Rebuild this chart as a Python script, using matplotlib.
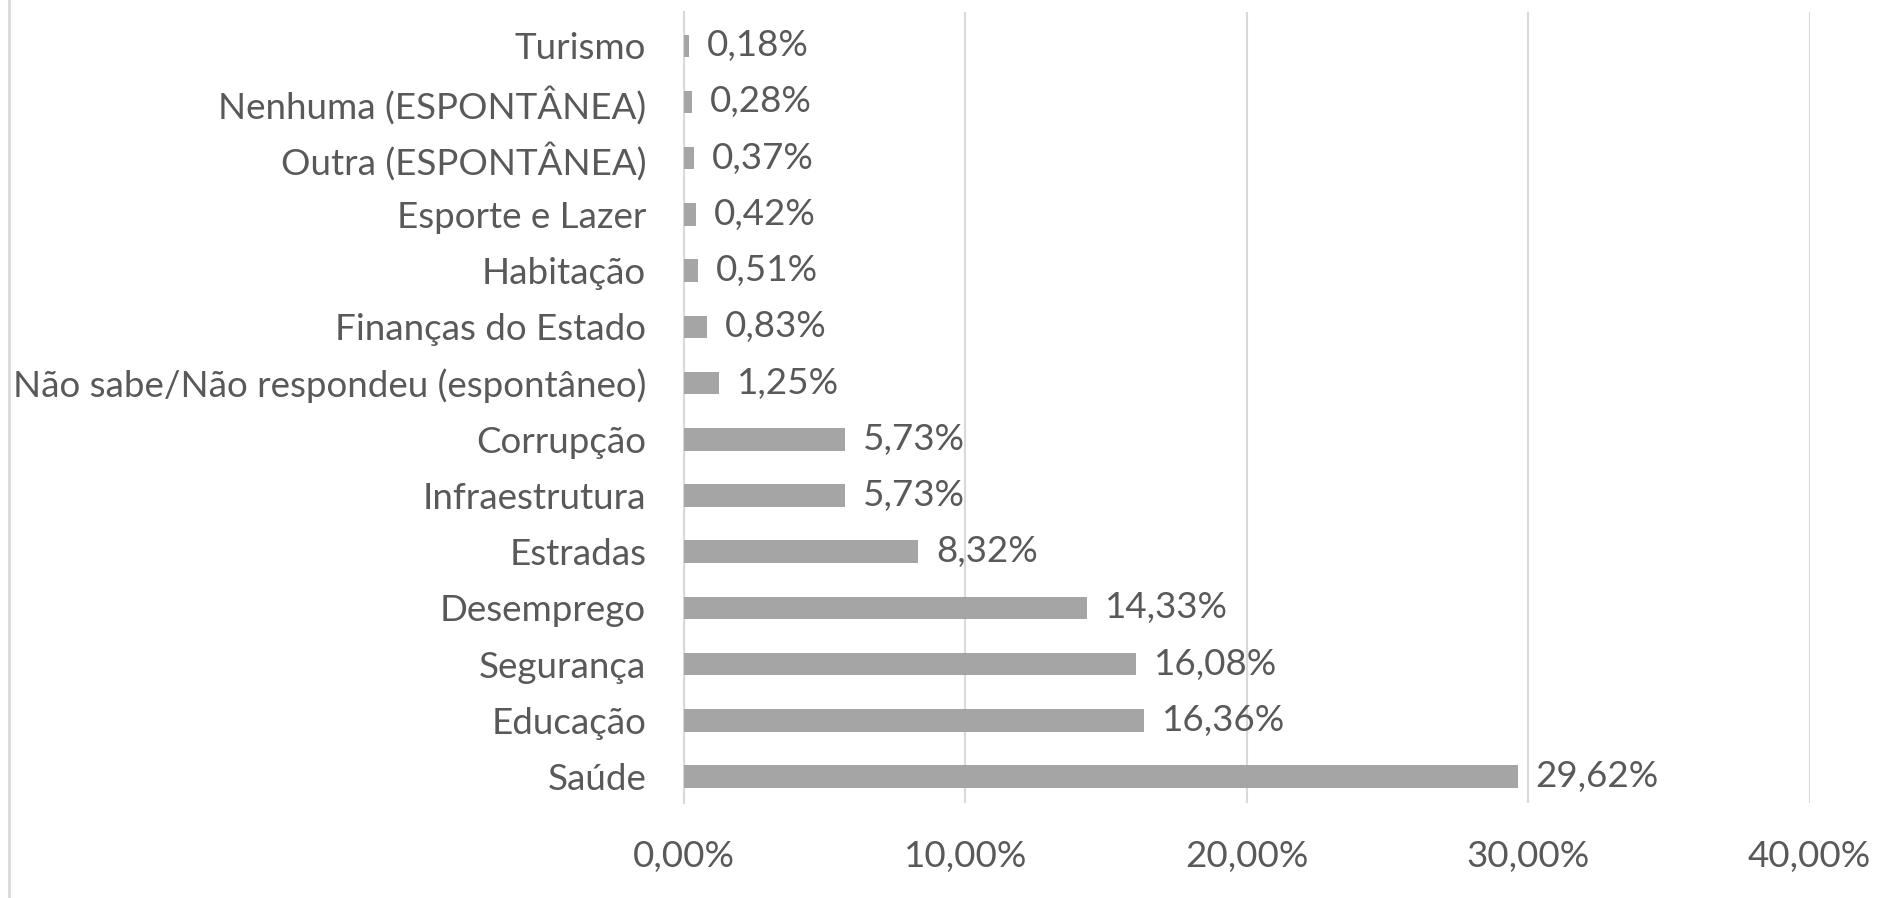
import matplotlib
matplotlib.use("Agg")
import matplotlib.pyplot as plt
from matplotlib.lines import Line2D

# values (percent of answers)
categories = ['Saúde', 'Educação', 'Segurança', 'Desemprego', 'Estradas',
              'Infraestrutura', 'Corrupção', 'Não sabe/Não respondeu (espontâneo)',
              'Finanças do Estado', 'Habitação', 'Esporte e Lazer',
              'Outra (ESPONTÂNEA)', 'Nenhuma (ESPONTÂNEA)', 'Turismo']
values = [29.62, 16.36, 16.08, 14.33, 8.32, 5.73, 5.73, 1.25,
          0.83, 0.51, 0.42, 0.37, 0.28, 0.18]
xticks = [0, 10, 20, 30, 40]

TEXT = '#595959'
BAR = '#A5A5A5'
GRID = '#D9D9D9'
FS = 26.5

plt.rcParams['font.family'] = ['Lato', 'DejaVu Sans']

fig = plt.figure(figsize=(18.94, 8.98), dpi=100)
ax = fig.add_axes([0.361, 0.1058, 0.5945, 0.8808])

ypos = list(range(len(categories)))
ax.barh(ypos, values, height=0.4, color=BAR, zorder=3)

for y, v in zip(ypos, values):
    ax.annotate(f'{v:.2f}%'.replace('.', ','), (v, y), xytext=(13, 0),
                textcoords='offset points', va='center', ha='left',
                fontsize=FS, color=TEXT)

ax.set_xlim(0, 40)
ax.set_ylim(-0.47, 13.6)
ax.set_xticks(xticks)
ax.set_xticklabels([f'{t:.2f}%'.replace('.', ',') for t in xticks])
ax.set_yticks(ypos)
ax.set_yticklabels(categories)
ax.tick_params(axis='both', length=0, labelsize=FS, labelcolor=TEXT)
ax.tick_params(axis='y', pad=27)
ax.tick_params(axis='x', pad=27)
ax.grid(axis='x', color=GRID, linewidth=1.5, zorder=0)

for s in ['top', 'right', 'bottom']:
    ax.spines[s].set_visible(False)
ax.spines['left'].set_color(GRID)
ax.spines['left'].set_linewidth(1.5)

# chart border on the left edge
fig.add_artist(Line2D([0.0045, 0.0045], [0, 1], color=GRID, linewidth=2,
                      transform=fig.transFigure))

fig.savefig('out.png', dpi=100)
